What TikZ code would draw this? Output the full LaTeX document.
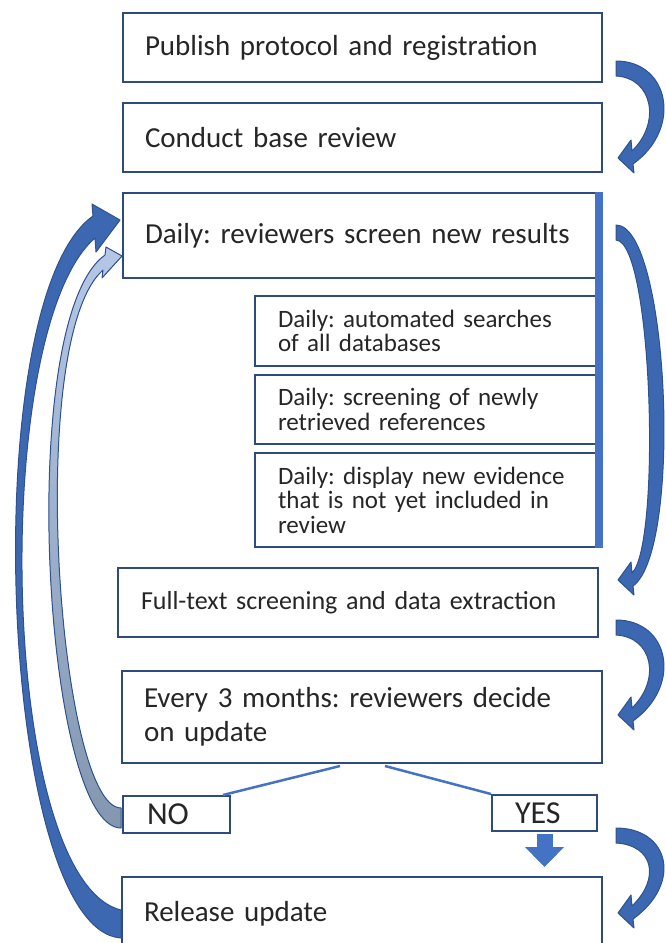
\documentclass[tikz,border=0pt]{standalone}
\usepackage{fontspec}
\setmainfont{Carlito}
\usetikzlibrary{calc,arrows.meta}
\hyphenpenalty=10000
\exhyphenpenalty=10000

\definecolor{boxline}{HTML}{2E4B7E}
\definecolor{barblue}{HTML}{4472C4}
\definecolor{arrowblue}{HTML}{3C67B1}
\definecolor{arrowedge}{HTML}{2F528F}
\definecolor{lighttop}{HTML}{B4C7E7}
\definecolor{lightbot}{HTML}{8497B0}
\definecolor{txt}{HTML}{262626}

\tikzset{
  box/.style={draw=boxline, line width=2pt, fill=white, inner xsep=22pt, inner ysep=0pt,
    align=left, text=txt, font=\frenchspacing\fontsize{29}{34}\selectfont},
  subbox/.style={box, inner xsep=23pt, font=\frenchspacing\fontsize{25}{24.5}\selectfont},
  rarrowstyle/.style={fill=arrowblue, draw=arrowedge, line width=1pt, line join=round},
}

% curved arrow on the right: #1 = tail (upper corner), #2 = tip
\newcommand{\rarrow}[2]{%
  \filldraw[rarrowstyle] (#1) .. controls +(53,0) and +(50,-36) .. ($(#2)+(15,6)$)
    -- ($(#2)+(16,15)$) -- (#2) -- ($(#2)+(13,-18)$) -- ($(#2)+(14,-7)$)
    .. controls +(29,-28) and +(37,2) .. ($(#1)+(0,15)$) -- cycle;}

\begin{document}
\begin{tikzpicture}[x=1pt, y=-1pt]
  \useasboundingbox (0,0) rectangle (666,943);

  % main column
  \node[box, minimum width=479pt, minimum height=69pt, text width=435pt] (pub) at (362.5,47.5)
    {Publish protocol and registration};
  \node[box, minimum width=479pt, minimum height=69pt, text width=435pt] (base) at (362.5,137.5)
    {Conduct base review};
  \node[box, minimum width=474pt, minimum height=85pt, text width=430pt] (screen) at (360,235.5)
    {Daily: reviewers screen new results};

  % daily steps
  \node[subbox, minimum width=342pt, minimum height=70pt, text width=296pt] (s1) at (426,331)
    {Daily: automated searches\\of all databases};
  \node[subbox, minimum width=342pt, minimum height=69pt, text width=296pt] (s2) at (426,409.5)
    {Daily: screening of newly\\retrieved references};
  \node[subbox, minimum width=342pt, minimum height=94pt, text width=296pt] (s3) at (426,500)
    {Daily: display new evidence\\that is not yet included in\\review};
  \fill[barblue] ([xshift=-3pt]screen.north east) rectangle ([xshift=5pt]s3.south east);

  \node[box, inner xsep=23pt, minimum width=480pt, minimum height=69pt, text width=434pt,
    font=\frenchspacing\fontsize{26}{30}\selectfont] (full) at (358,602.5)
    {Full-text screening and data extraction};
  \node[box, minimum width=480pt, minimum height=92pt, text width=436pt] (decide) at (362,717)
    {Every 3 months: reviewers decide\\on update};

  \node[box, inner xsep=24pt, minimum width=107pt, minimum height=37pt, text width=59pt,
    font=\fontsize{32}{34}\selectfont] (no) at (176.5,814.5) {NO};
  \node[box, inner xsep=23pt, minimum width=105pt, minimum height=36pt, text width=59pt,
    font=\fontsize{32}{34}\selectfont] (yes) at (544.5,813) {YES};
  \node[box, minimum width=480pt, minimum height=73pt, text width=436pt] (rel) at (362,913.5)
    {Release update};

  % decision lines
  \draw[barblue, line width=2.5pt] ($(decide.south)+(-22,2)$) -- ([xshift=-8pt]no.north east);
  \draw[barblue, line width=2.5pt] ($(decide.south)+(23,2)$) -- (yes.north west);
  \draw[barblue, line width=16pt, -{Triangle[width=38pt,length=20pt]}]
    ([yshift=-2pt]yes.south) -- ([yshift=9pt]yes.south |- rel.north);

  % right hand arrows
  \coordinate (a1s) at ($(pub.east)+(13,13.5)$);
  \coordinate (a1t) at ($(base.east)+(15,20.5)$);
  \coordinate (a2s) at ($(screen.east)+(18,-10.5)$);
  \coordinate (a2t) at ($(full.east)+(19,-22.5)$);
  \coordinate (a3s) at ($(full.east)+(17,17.5)$);
  \coordinate (a3t) at ($(decide.east)+(15,-2)$);
  \coordinate (a4s) at ($(yes.east)+(18,15)$);
  \coordinate (a4t) at ($(rel.east)+(15,-0.5)$);
  \rarrow{a1s}{a1t}
  \rarrow{a2s}{a2t}
  \rarrow{a3s}{a3t}
  \rarrow{a4s}{a4t}

  % loop back arrows on the left
  \coordinate (d0) at ($(rel.west)+(0,24.5)$);
  \coordinate (d1) at ($(rel.west)+(0,-3.5)$);
  \coordinate (dt) at ($(screen.west)+(-2,-15.5)$);
  \filldraw[rarrowstyle] (d0) .. controls +(-122,-8) and +(-119,84) .. ($(dt)+(-27,-4)$)
    -- ($(dt)+(-28,-16)$) -- (dt) -- ($(dt)+(-24,32)$) -- ($(dt)+(-25,18)$)
    .. controls +(-106,92) and +(-122,-30) .. (d1) -- cycle;

  \coordinate (l0) at ($(no.west)+(-1,13.5)$);
  \coordinate (l1) at ($(no.west)+(-1,-6.5)$);
  \coordinate (lt) at ($(screen.west)+(0,20.5)$);
  \filldraw[rarrowstyle, top color=lighttop, bottom color=lightbot] (l0)
    .. controls +(-77,0) and +(-91,65) .. ($(lt)+(-17,-1)$)
    -- ($(lt)+(-16,-9)$) -- (lt) -- ($(lt)+(-20,22)$) -- ($(lt)+(-19,14)$)
    .. controls +(-79,70) and +(-62,0) .. (l1) -- cycle;
\end{tikzpicture}
\end{document}
